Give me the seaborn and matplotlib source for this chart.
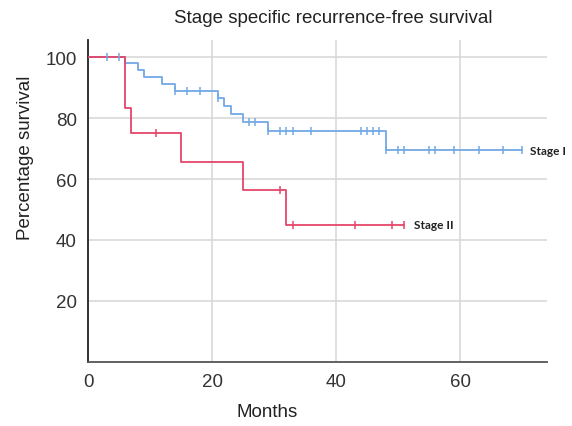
import numpy as np
import pandas as pd
import matplotlib
matplotlib.use("Agg")
import matplotlib.pyplot as plt
import seaborn as sns

# Kaplan-Meier steps (months, % survival)
stage1_times = [0, 6, 8, 9, 12, 14, 21, 22, 23, 25, 29, 48]
stage1_surv = [100, 98.0, 95.6, 93.4, 91.2, 89.0, 86.7, 84.1, 81.4, 78.7, 75.9, 69.4]
stage1_end = 70
stage1_censor = [3, 5, 14, 16, 18, 21, 26, 27, 29, 31, 32, 33, 36, 44, 45, 46, 47,
                 48, 50, 51, 55, 56, 59, 63, 67, 70]

stage2_times = [0, 6, 7, 15, 25, 32]
stage2_surv = [100, 83.3, 75.0, 65.6, 56.3, 45.0]
stage2_end = 51
stage2_censor = [11, 31, 33, 43, 49, 51]

blue = "#72a9e6"
red = "#e4456a"


def step_df(times, surv, end):
    t = list(times) + [end]
    s = list(surv) + [surv[-1]]
    return pd.DataFrame({"month": t, "surv": s})


def censor_df(times, surv, cens):
    idx = np.searchsorted(times, cens, side="right") - 1
    return pd.DataFrame({"month": cens, "surv": np.array(surv)[idx]})


sns.set_style("white")
plt.rcParams["font.family"] = ["Liberation Sans", "DejaVu Sans"]

fig = plt.figure(figsize=(5.72, 4.27), dpi=100)
ax = fig.add_axes([0.154, 0.150, 0.802, 0.754])

for v in [20, 40, 60]:
    ax.axvline(v, color="#d6d6d6", lw=1.1, zorder=0)
for v in [20, 40, 60, 80, 100]:
    ax.axhline(v, color="#d6d6d6", lw=1.1, zorder=0)

sns.lineplot(data=step_df(stage1_times, stage1_surv, stage1_end), x="month", y="surv",
             drawstyle="steps-post", color=blue, lw=1.3, ax=ax, zorder=2)
sns.lineplot(data=step_df(stage2_times, stage2_surv, stage2_end), x="month", y="surv",
             drawstyle="steps-post", color=red, lw=1.3, ax=ax, zorder=3)

sns.scatterplot(data=censor_df(stage1_times, stage1_surv, stage1_censor), x="month", y="surv",
                marker="|", s=26, color=blue, linewidth=1.1, ax=ax, zorder=4)
sns.scatterplot(data=censor_df(stage2_times, stage2_surv, stage2_censor), x="month", y="surv",
                marker="|", s=26, color=red, linewidth=1.1, ax=ax, zorder=4)

ax.text(stage1_end + 1.3, stage1_surv[-1], "Stage I", family=["Lato", "DejaVu Sans"],
        fontweight="bold", fontsize=8.6, color="#222222", va="center")
ax.text(stage2_end + 1.5, stage2_surv[-1], "Stage II", family=["Lato", "DejaVu Sans"],
        fontweight="bold", fontsize=8.6, color="#222222", va="center")

ax.set_xlim(0, 74)
ax.set_ylim(0, 105.6)
ax.set_xticks([0, 20, 40, 60])
ax.set_yticks([20, 40, 60, 80, 100])
ax.tick_params(length=0, labelsize=13.5, labelcolor="#333333", pad=8)
ax.set_xlabel("")
ax.set_ylabel("")

for side in ["top", "right"]:
    ax.spines[side].set_visible(False)
ax.spines["left"].set_color("#222222")
ax.spines["bottom"].set_color("#555555")
ax.spines["left"].set_linewidth(1.3)
ax.spines["bottom"].set_linewidth(1.3)

fig.text(0.582, 0.956, "Stage specific recurrence-free survival", ha="center", va="center",
         fontsize=13.5, color="#222222")
fig.text(0.467, 0.033, "Months", ha="center", va="center", fontsize=13.5, color="#222222")
fig.text(0.044, 0.63, "Percentage survival", ha="center", va="center", rotation=90,
         fontsize=13.5, color="#222222")

fig.savefig("out.png", dpi=100)
